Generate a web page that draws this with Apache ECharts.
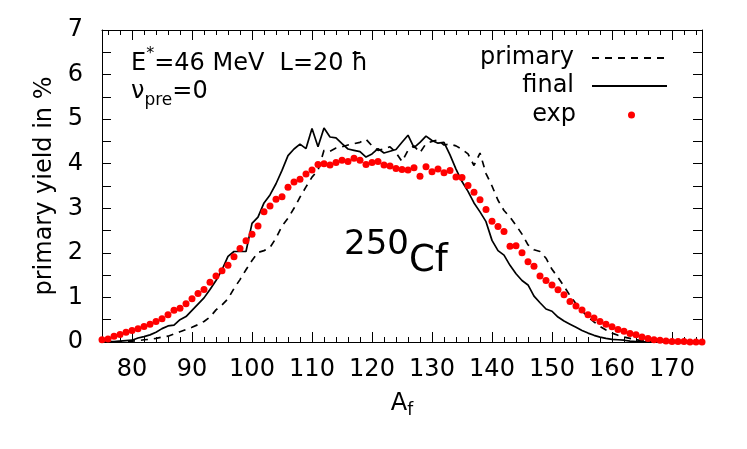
<!DOCTYPE html>
<html>
<head>
<meta charset="utf-8">
<script src="https://cdn.jsdelivr.net/npm/echarts@6/dist/echarts.min.js"></script>
<style>
html, body { margin: 0; padding: 0; background: #fff; }
#chart { width: 747px; height: 449px; }
</style>
</head>
<body>
<div id="chart"></div>
<script>
// fragment mass numbers A_f
var massNumbers = [
  75, 76, 77, 78, 79, 80, 81, 82, 83, 84, 85, 86, 87, 88, 89, 90, 91, 92, 93, 94,
  95, 96, 97, 98, 99, 100, 101, 102, 103, 104, 105, 106, 107, 108, 109, 110, 111, 112, 113, 114,
  115, 116, 117, 118, 119, 120, 121, 122, 123, 124, 125, 126, 127, 128, 129, 130, 131, 132, 133, 134,
  135, 136, 137, 138, 139, 140, 141, 142, 143, 144, 145, 146, 147, 148, 149, 150, 151, 152, 153, 154,
  155, 156, 157, 158, 159, 160, 161, 162, 163, 164, 165, 166, 167, 168, 169, 170, 171, 172, 173, 174, 175
];

// primary yield (dashed)
var primaryYield = [
  0.00, 0.00, 0.00, 0.01, 0.01, 0.02, 0.03, 0.05, 0.06, 0.08, 0.11, 0.13, 0.18, 0.23, 0.28, 0.33, 0.39, 0.46, 0.56, 0.72,
  0.83, 0.97, 1.20, 1.40, 1.62, 1.83, 2.01, 2.05, 2.12, 2.33, 2.60, 2.78, 3.00, 3.25, 3.48, 3.70, 3.85, 4.30, 4.28, 4.35,
  4.38, 4.42, 4.45, 4.48, 4.55, 4.40, 4.30, 4.33, 4.38, 4.25, 4.05, 4.30, 4.40, 4.25, 4.45, 4.50, 4.53, 4.42, 4.44, 4.40,
  4.32, 4.22, 3.96, 4.24, 3.78, 3.50, 3.18, 2.95, 2.80, 2.62, 2.42, 2.18, 2.07, 2.03, 1.88, 1.63, 1.45, 1.25, 1.04, 0.86,
  0.70, 0.56, 0.45, 0.35, 0.27, 0.20, 0.15, 0.11, 0.08, 0.05, 0.03, 0.02, 0.01, 0.00, 0.00, 0.00, 0.00, 0.00, 0.00, 0.00, 0.00
];

// final yield (solid)
var finalYield = [
  0.00, 0.01, 0.01, 0.02, 0.03, 0.04, 0.09, 0.12, 0.16, 0.22, 0.30, 0.36, 0.38, 0.50, 0.57, 0.71, 0.85, 0.99, 1.18, 1.38,
  1.62, 1.92, 2.03, 2.03, 2.03, 2.66, 2.80, 3.12, 3.30, 3.55, 3.85, 4.18, 4.33, 4.44, 4.34, 4.79, 4.38, 4.80, 4.60, 4.58,
  4.45, 4.33, 4.30, 4.27, 4.15, 4.22, 4.34, 4.24, 4.28, 4.32, 4.48, 4.64, 4.36, 4.48, 4.62, 4.52, 4.46, 4.48, 4.20, 3.88,
  3.60, 3.38, 3.12, 2.92, 2.70, 2.28, 2.05, 1.95, 1.72, 1.53, 1.38, 1.28, 1.03, 0.88, 0.74, 0.69, 0.56, 0.47, 0.40, 0.33,
  0.26, 0.20, 0.15, 0.11, 0.08, 0.06, 0.05, 0.04, 0.02, 0.01, 0.01, 0.00, 0.00, 0.00, 0.00, 0.00, 0.00, 0.00, 0.00, 0.00, 0.00
];

// experimental yield (red dots)
var expYield = [
  0.05, 0.07, 0.13, 0.17, 0.22, 0.26, 0.30, 0.35, 0.40, 0.46, 0.52, 0.61, 0.71, 0.76, 0.86, 0.97, 1.09, 1.18, 1.34, 1.48,
  1.60, 1.72, 1.91, 2.10, 2.27, 2.42, 2.60, 2.92, 3.05, 3.20, 3.26, 3.47, 3.59, 3.65, 3.77, 3.86, 3.98, 4.00, 3.97, 4.03,
  4.08, 4.05, 4.12, 4.08, 3.98, 4.03, 4.05, 3.97, 3.95, 3.89, 3.87, 3.86, 3.91, 3.72, 3.93, 3.82, 3.88, 3.80, 3.85, 3.70,
  3.69, 3.51, 3.36, 3.19, 2.97, 2.71, 2.59, 2.48, 2.15, 2.16, 2.00, 1.80, 1.70, 1.48, 1.38, 1.28, 1.17, 1.06, 0.91, 0.81,
  0.72, 0.61, 0.54, 0.46, 0.40, 0.34, 0.28, 0.24, 0.19, 0.16, 0.11, 0.08, 0.05, 0.04, 0.02, 0.01, 0.01, 0.01, 0.00, 0.00, 0.00
];

var xMajorTicks = [80, 90, 100, 110, 120, 130, 140, 150, 160, 170];
var xMinorTicks = [76, 78, 82, 84, 86, 88, 92, 94, 96, 98, 102, 104, 106, 108, 112, 114, 116, 118,
  122, 124, 126, 128, 132, 134, 136, 138, 142, 144, 146, 148, 152, 154, 156, 158, 162, 164, 166, 168, 172, 174];

var FONT = 'DejaVu Sans';

function pairs(ys) {
  return massNumbers.map(function (a, i) { return [a, ys[i]]; });
}

// extra x axes that only carry the tick marks (bottom minor, top major/minor)
function tickAxis(pos, ticks, len, showLine) {
  return {
    type: 'value', position: pos, min: 75, max: 175,
    axisLine: { show: showLine, onZero: false, lineStyle: { color: '#000', width: 1 } },
    axisTick: { show: true, inside: true, length: len, customValues: ticks, lineStyle: { color: '#000', width: 1 } },
    axisLabel: { show: false },
    splitLine: { show: false }
  };
}

function legendBox(name, top, right, w, h, gap, extra) {
  var lg = {
    data: [name], orient: 'vertical', right: right, top: top, padding: 0,
    align: 'right', itemWidth: w, itemHeight: h,
    textStyle: { fontFamily: FONT, fontSize: 24, lineHeight: 24, color: '#000', padding: [0, gap, 0, 0] }
  };
  return Object.assign(lg, extra || {});
}

var chart = echarts.init(document.getElementById('chart'), null, { renderer: 'canvas' });

var option = {
  animation: false,
  backgroundColor: '#fff',
  textStyle: { fontFamily: FONT },
  grid: { left: 102, right: 45, top: 30, bottom: 107 },
  xAxis: [
    {
      type: 'value', position: 'bottom', min: 75, max: 175,
      name: '{a|A}{s|f}',
      nameLocation: 'middle',
      nameGap: 50,
      nameTextStyle: {
        rich: {
          a: { fontFamily: FONT, fontSize: 24, verticalAlign: 'top', color: '#000' },
          s: { fontFamily: FONT, fontSize: 17, verticalAlign: 'top', padding: [10, 0, 0, 0], color: '#000' }
        }
      },
      axisLine: { show: true, onZero: false, lineStyle: { color: '#000', width: 1 } },
      axisTick: { show: true, inside: true, length: 10, customValues: xMajorTicks, lineStyle: { color: '#000' } },
      axisLabel: { customValues: xMajorTicks, fontFamily: FONT, fontSize: 24, color: '#000', margin: 16 },
      splitLine: { show: false }
    },
    tickAxis('bottom', xMinorTicks, 5, false),
    tickAxis('top', xMajorTicks, 10, true),
    tickAxis('top', xMinorTicks, 5, false)
  ],
  yAxis: [
    {
      type: 'value', position: 'left', min: 0, max: 7, interval: 1,
      name: 'primary yield in %',
      nameLocation: 'middle',
      nameGap: 44,
      nameTextStyle: { fontFamily: FONT, fontSize: 24, color: '#000' },
      axisLine: { show: true, lineStyle: { color: '#000', width: 1 } },
      axisTick: { show: true, inside: true, length: 9, lineStyle: { color: '#000' } },
      minorTick: { show: true, splitNumber: 2, length: 9, lineStyle: { color: '#000' } },
      axisLabel: { fontFamily: FONT, fontSize: 24, color: '#000', margin: 19 },
      splitLine: { show: false }
    },
    {
      type: 'value', position: 'right', min: 0, max: 7, interval: 1,
      axisLine: { show: true, lineStyle: { color: '#000', width: 1 } },
      axisTick: { show: true, inside: true, length: 9, lineStyle: { color: '#000' } },
      minorTick: { show: true, splitNumber: 2, length: 9, lineStyle: { color: '#000' } },
      axisLabel: { show: false },
      splitLine: { show: false }
    }
  ],
  legend: [
    legendBox('primary', 46, 79, 75, 14, 13, { itemStyle: { opacity: 0 } }),
    legendBox('final', 74, 79, 75, 14, 13, { itemStyle: { opacity: 0 } }),
    legendBox('exp', 103, 112, 7, 7, 47)
  ],
  graphic: [
    {
      type: 'text', left: 131, top: 46,
      style: {
        text: '{a|E}{s|*}{a|=46 MeV  L=20 ħ}',
        fill: '#000',
        rich: {
          a: { fontFamily: FONT, fontSize: 24, verticalAlign: 'top', padding: [6, 0, 0, 0] },
          s: { fontFamily: FONT, fontSize: 16, verticalAlign: 'top' }
        }
      }
    },
    {
      type: 'text', left: 131, top: 80,
      style: {
        text: '{a|ν}{s|pre}{a|=0}',
        fill: '#000',
        rich: {
          a: { fontFamily: FONT, fontSize: 24, verticalAlign: 'top' },
          s: { fontFamily: FONT, fontSize: 17, verticalAlign: 'top', padding: [12, 0, 0, 0] }
        }
      }
    },
    {
      type: 'text', left: 344, top: 228,
      style: {
        text: '{s|250}{a|Cf}',
        fill: '#000',
        rich: {
          s: { fontFamily: FONT, fontSize: 34, verticalAlign: 'top' },
          a: { fontFamily: FONT, fontSize: 37, verticalAlign: 'top', padding: [15, 0, 0, 0] }
        }
      }
    }
  ],
  series: [
    {
      name: 'primary', type: 'line', data: pairs(primaryYield),
      symbol: 'none', z: 2,
      lineStyle: { color: '#000', width: 1.7, type: [7, 6] },
      itemStyle: { color: '#000' }
    },
    {
      name: 'final', type: 'line', data: pairs(finalYield),
      symbol: 'none', z: 3,
      lineStyle: { color: '#000', width: 1.7, type: 'solid' },
      itemStyle: { color: '#000' }
    },
    {
      name: 'exp', type: 'scatter', data: pairs(expYield),
      symbol: 'circle', symbolSize: 7, z: 4,
      itemStyle: { color: '#ff0000', opacity: 1 }
    }
  ]
};

chart.setOption(option);
</script>
</body>
</html>
